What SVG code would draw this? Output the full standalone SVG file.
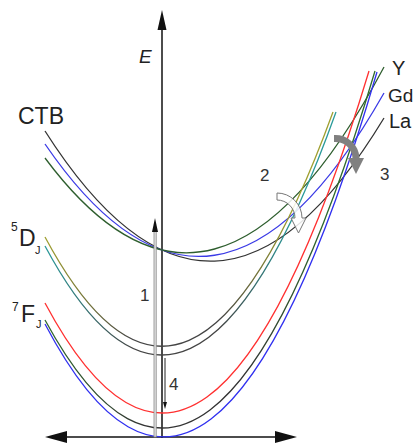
<svg xmlns="http://www.w3.org/2000/svg" width="414" height="448" viewBox="0 0 414 448">
<style>
  .c { fill: none; stroke-width: 1.3; }
  .ax { stroke: #111; stroke-width: 1.5; fill: none; }
  .lbl { font-family: "Liberation Sans", Arial, sans-serif; fill: #222; }
  .num { font-family: "Liberation Sans", Arial, sans-serif; fill: #333; font-size: 17px; }
</style>
<defs>
  <linearGradient id="gOlive" gradientUnits="userSpaceOnUse" x1="45" y1="0" x2="336" y2="0">
    <stop offset="0" stop-color="#a0a030"/>
    <stop offset="0.3" stop-color="#444"/>
    <stop offset="0.6" stop-color="#444"/>
    <stop offset="0.85" stop-color="#a0a030"/>
  </linearGradient>
  <linearGradient id="gTeal" gradientUnits="userSpaceOnUse" x1="45" y1="0" x2="336" y2="0">
    <stop offset="0" stop-color="#2a9a9a"/>
    <stop offset="0.3" stop-color="#444"/>
    <stop offset="0.6" stop-color="#444"/>
    <stop offset="0.85" stop-color="#2a9a9a"/>
  </linearGradient>
  <linearGradient id="gGreen" gradientUnits="userSpaceOnUse" x1="45" y1="0" x2="375" y2="0">
    <stop offset="0" stop-color="#2e6a2e"/>
    <stop offset="0.3" stop-color="#333"/>
    <stop offset="0.6" stop-color="#333"/>
    <stop offset="0.85" stop-color="#2e6a2e"/>
  </linearGradient>
</defs>

<g id="axes">
  <line class="ax" x1="162" y1="28" x2="162" y2="438"/>
  <polygon points="162,10 157.5,30 166.5,30" fill="#111"/>
  <line class="ax" x1="64" y1="437" x2="277" y2="437"/>
  <polygon points="45,437 67,431 67,443" fill="#111"/>
  <polygon points="297,437 275,431 275,443" fill="#111"/>
  <text class="lbl" x="139" y="63" font-size="19" font-style="italic">E</text>
</g>

<g id="ctb">
  <path class="c" stroke="#333" d="M45,131 Q214.5,397.7 384,118"/>
  <path class="c" stroke="#3a3ae6" d="M45,144 Q214.5,392 384,93"/>
  <path class="c" stroke="#2e5e2e" d="M45,158 Q214.5,385.5 384,67"/>
  <text class="lbl" x="18" y="124" font-size="23">CTB</text>
</g>

<g id="d5">
  <path class="c" stroke="url(#gOlive)" d="M45,237 Q189,506.2 333,112"/>
  <path class="c" stroke="url(#gTeal)" d="M45,246 Q190.5,517.7 336,112"/>
  <text class="lbl" x="11" y="231" font-size="12">5</text>
  <text class="lbl" x="19" y="246" font-size="23">D</text>
  <text class="lbl" x="35" y="254" font-size="11">J</text>
</g>

<g id="f7">
  <path class="c" stroke="#ff3030" d="M45,303 Q207,607 369,71"/>
  <path class="c" stroke="url(#gGreen)" d="M45,320 Q210,624.4 375,71"/>
  <path class="c" stroke="#3030f0" d="M45,324 Q211,640 377,72"/>
  <text class="lbl" x="12" y="311" font-size="12">7</text>
  <text class="lbl" x="21" y="322" font-size="23">F</text>
  <text class="lbl" x="36" y="328" font-size="11">J</text>
</g>

<g id="hosts">
  <text class="lbl" x="392" y="75" font-size="20">Y</text>
  <text class="lbl" x="388" y="102" font-size="19">Gd</text>
  <text class="lbl" x="389" y="128" font-size="20">La</text>
</g>

<g id="transitions">
  <rect x="154" y="231" width="2.2" height="206" fill="#e4e4e4" stroke="#888" stroke-width="0.8"/>
  <polygon points="155,218 152,232 158,232" fill="#111"/>
  <text class="num" x="140" y="301">1</text>
  <line x1="165" y1="358" x2="165" y2="403" stroke="#222" stroke-width="1"/>
  <polygon points="165,409 163,402 167,402" fill="#111"/>
  <text class="num" x="169" y="390">4</text>
  <path d="M277,193 A25,25 0 0 1 302,218 L306,218 L298.5,233 L291,218 L295,218 A18,18 0 0 0 277,200 Z" fill="#fff" fill-opacity="0.85" stroke="#777" stroke-width="1"/>
  <text class="num" x="260" y="181">2</text>
  <path d="M334,135 A24,24 0 0 1 359.5,158 L364,158 L356,174 L348,158 L352.5,158 A17,17 0 0 0 334,142 Z" fill="#808080"/>
  <text class="num" x="380" y="180">3</text>
</g>
</svg>
